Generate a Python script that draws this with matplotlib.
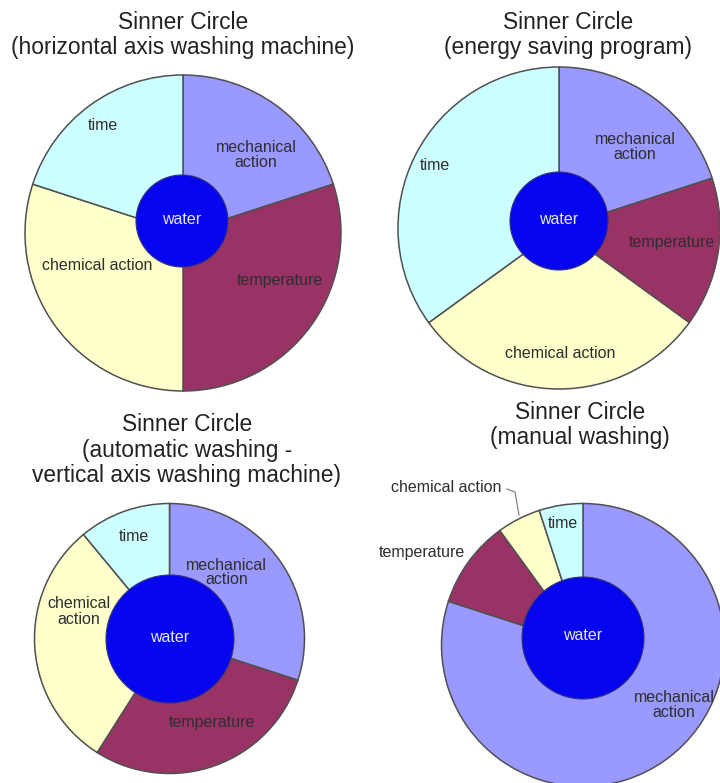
import matplotlib
matplotlib.use("Agg")
import matplotlib.pyplot as plt
from matplotlib.patches import Circle

plt.rcParams['font.family'] = ['Liberation Sans', 'DejaVu Sans']

# ---------------- data ----------------
categories = ["mechanical action", "temperature", "chemical action", "time"]
titles = [
    "Sinner Circle\n(horizontal axis washing machine)",
    "Sinner Circle\n(energy saving program)",
    "Sinner Circle\n(automatic washing -\nvertical axis washing machine)",
    "Sinner Circle\n(manual washing)",
]
horizontal_axis = [20, 30, 30, 20]
energy_saving = [20, 15, 30, 35]
vertical_axis = [30, 29, 30, 11]
manual_washing = [80, 10, 5, 5]
center_label = "water"

colors = ["#9999FF", "#993366", "#FFFFCC", "#CCFFFF"]
water_color = "#0505F0"
edge = "#505050"

W, H = 720, 783

# ---------------- layout (pixel units, y measured from top) ----------------
panels = [
    dict(values=horizontal_axis, title=titles[0], tpos=(183, 35),
         c=(183, 233), r=158, wc=(182, 221), wr=46,
         lab={"mechanical action": (73, 78), "temperature": (97, -47),
              "chemical action": (-86, -33), "time": (-80, 107)},
         labtxt={"mechanical action": "mechanical\naction"}),
    dict(values=energy_saving, title=titles[1], tpos=(568, 35),
         c=(559, 228), r=161, wc=(559, 221), wr=49,
         lab={"mechanical action": (76, 81), "temperature": (113, -14),
              "chemical action": (1, -125), "time": (-124, 62)},
         labtxt={"mechanical action": "mechanical\naction"}),
    dict(values=vertical_axis, title=titles[2], tpos=(187, 450),
         c=(169.5, 638.5), r=135, wc=(170, 639), wr=64,
         lab={"mechanical action": (57, 66), "temperature": (42, -84),
              "chemical action": (-91, 27), "time": (-36, 102)},
         labtxt={"mechanical action": "mechanical\naction",
                 "chemical action": "chemical\naction"}),
    dict(values=manual_washing, title=titles[3], tpos=(580, 425),
         c=(583, 645), r=141.5, wc=(583, 638), wr=61,
         lab={"mechanical action": (91, -60), "temperature": (-161, 92),
              "chemical action": (-137, 158), "time": (-20, 122)},
         labtxt={"mechanical action": "mechanical\naction"},
         leader=[(-76, 156), (-68, 153), (-64, 130)]),
]

fig = plt.figure(figsize=(W / 100, H / 100), dpi=100)
ax = fig.add_axes([0, 0, 1, 1])

def Y(py):
    return H - py

for p in panels:
    cx, cy = p["c"]
    ax.pie(p["values"], colors=colors, startangle=90, counterclock=False,
           center=(cx, Y(cy)), radius=p["r"], frame=True,
           wedgeprops=dict(edgecolor=edge, linewidth=1.1))
    wx, wy = p["wc"]
    ax.add_patch(Circle((wx, Y(wy)), p["wr"], facecolor=water_color,
                        edgecolor="#333377", linewidth=0.8, zorder=5))
    ax.text(wx, Y(wy) + 2, center_label, ha="center", va="center",
            color="#E6E6FF", fontsize=11.5, zorder=6)
    for cat in categories:
        dx, dy = p["lab"][cat]
        txt = p["labtxt"].get(cat, cat)
        ax.text(cx + dx, Y(cy) + dy, txt, ha="center", va="center",
                color="#2E2E2E", fontsize=11.5, linespacing=1.0, zorder=6)
    if "leader" in p:
        xs = [cx + d[0] for d in p["leader"]]
        ys = [Y(cy) + d[1] for d in p["leader"]]
        ax.plot(xs, ys, color="#777777", linewidth=0.8, zorder=6)
    tx, ty = p["tpos"]
    ax.text(tx, Y(ty), p["title"], ha="center", va="center",
            fontsize=16.4, color="#222222", linespacing=1.12)

ax.set_xlim(0, W)
ax.set_ylim(0, H)
ax.set_aspect("equal")
ax.axis("off")
fig.savefig("out.png", dpi=100, facecolor="white")
